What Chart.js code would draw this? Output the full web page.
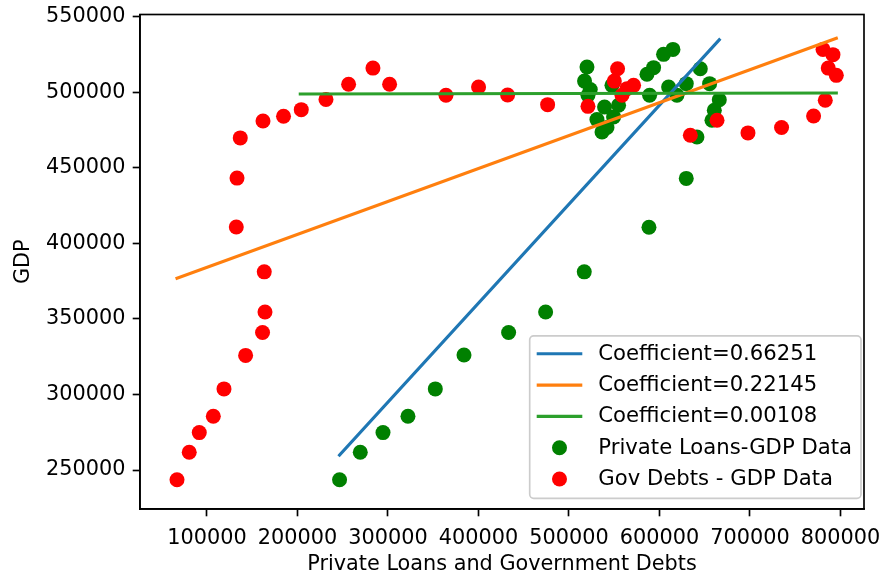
<!DOCTYPE html>
<html>
<head>
<meta charset="utf-8">
<script src="https://cdn.jsdelivr.net/npm/chart.js@4.4.1/dist/chart.umd.min.js"></script>
<style>
  html, body { margin: 0; padding: 0; background: #ffffff; }
  #wrap { width: 891px; height: 575px; }
</style>
</head>
<body>
<div id="wrap"><canvas id="c" width="891" height="575"></canvas></div>
<script>
// ---- data ----
const privateLoans = [246500, 269400, 294500, 322100, 352300, 384000, 433300, 474200, 516900, 588400, 629600, 641400, 658000, 660600, 666100, 655400, 645100, 629600, 619300, 610100, 589100, 614900, 604500, 593500, 586200, 547500, 554800, 549300, 542000, 536500, 539300, 530900, 521000, 523500, 517200, 519900];
const privateGdp   = [243600, 261800, 274800, 285600, 303700, 326200, 341100, 354600, 381200, 410700, 443100, 470500, 481600, 488200, 495200, 505800, 515700, 505800, 498100, 503600, 498100, 528500, 525200, 516400, 512000, 504700, 491500, 483800, 476800, 473800, 490400, 482000, 498100, 501900, 507500, 516800];

const govDebts = [66900, 80400, 91500, 107000, 118800, 142700, 161400, 164100, 163300, 132400, 133200, 136800, 161900, 184600, 204200, 231500, 256500, 283400, 301800, 364100, 400100, 432200, 476400, 521000, 550100, 553700, 558600, 564100, 571400, 634100, 663600, 697800, 734900, 770300, 783200, 795400, 786500, 791700, 780700];
const govGdp   = [243600, 261800, 274800, 285600, 303700, 325900, 341100, 354600, 381200, 410900, 443300, 469900, 481100, 484200, 488600, 495400, 505400, 516100, 505400, 498100, 503600, 498300, 491900, 490800, 507500, 515700, 498100, 502500, 504700, 471700, 481600, 473200, 476800, 484400, 494800, 511300, 516100, 525000, 528500];

// fitted lines (end points)
const fitPrivateX = [246500, 666100];
const fitPrivateY = [259840, 534870];
const fitGovX = [66900, 795400];
const fitGovY = [377000, 535900];
const fitAllX = [203100, 795400];
const fitAllY = [498940, 499600];

const lineLabels = ['Coefficient=0.66251', 'Coefficient=0.22145', 'Coefficient=0.00108'];
const scatterLabels = ['Private Loans-GDP Data', 'Gov Debts - GDP Data'];

const xTicks = [100000, 200000, 300000, 400000, 500000, 600000, 700000, 800000];
const yTicks = [250000, 300000, 350000, 400000, 450000, 500000, 550000];

const xLabel = 'Private Loans and Government Debts';
const yLabel = 'GDP';

// ---- helpers ----
const pts = (xs, ys) => xs.map((x, i) => ({ x: x, y: ys[i] }));
const FONT = 'DejaVu Sans';
const FS = 20.8;
const LFS = 21.2;
const LW = 3.1;

const lineDs = (label, xs, ys, color, order) => ({
  label, data: pts(xs, ys), showLine: true, borderColor: color, backgroundColor: color,
  borderWidth: LW, pointRadius: 0, pointHoverRadius: 0, order, kind: 'line', borderCapStyle: 'square'
});
const scatDs = (label, xs, ys, color, order) => ({
  label, data: pts(xs, ys), showLine: false, backgroundColor: color, borderColor: color,
  borderWidth: 0, pointRadius: 7.5, pointHoverRadius: 7.5, order, kind: 'scatter'
});

const legendPlugin = {
  id: 'boxLegend',
  afterDraw(chart) {
    const ctx = chart.ctx;
    const a = chart.chartArea;
    ctx.save();
    // full frame (spines on all four sides)
    ctx.strokeStyle = '#000000';
    ctx.lineWidth = 1.67;
    ctx.strokeRect(a.left, a.top, a.right - a.left, a.bottom - a.top);

    // legend
    ctx.font = LFS + 'px "' + FONT + '"';
    const dsets = chart.data.datasets;
    let maxW = 0;
    dsets.forEach(d => { maxW = Math.max(maxW, ctx.measureText(d.label).width); });
    const rowH = 31.3;
    const boxRight = a.right - 3;
    const boxBottom = a.bottom - 10.7;
    const textX = boxRight - 9 - maxW;
    const boxLeft = textX - 68.6;
    const boxTop = boxBottom - (rowH * (dsets.length - 1) + 18 + 19.3);
    const r = 4;
    ctx.beginPath();
    ctx.moveTo(boxLeft + r, boxTop);
    ctx.lineTo(boxRight - r, boxTop);
    ctx.arcTo(boxRight, boxTop, boxRight, boxTop + r, r);
    ctx.lineTo(boxRight, boxBottom - r);
    ctx.arcTo(boxRight, boxBottom, boxRight - r, boxBottom, r);
    ctx.lineTo(boxLeft + r, boxBottom);
    ctx.arcTo(boxLeft, boxBottom, boxLeft, boxBottom - r, r);
    ctx.lineTo(boxLeft, boxTop + r);
    ctx.arcTo(boxLeft, boxTop, boxLeft + r, boxTop, r);
    ctx.closePath();
    ctx.fillStyle = 'rgba(255,255,255,0.8)';
    ctx.fill();
    ctx.strokeStyle = '#cccccc';
    ctx.lineWidth = 1.67;
    ctx.stroke();

    const hx0 = boxLeft + 7, hx1 = boxLeft + 52.6;
    dsets.forEach((d, i) => {
      const cy = boxTop + 18 + i * rowH;
      if (d.kind === 'line') {
        ctx.strokeStyle = d.borderColor;
        ctx.lineWidth = LW;
        ctx.beginPath();
        ctx.moveTo(hx0, cy);
        ctx.lineTo(hx1, cy);
        ctx.stroke();
      } else {
        ctx.fillStyle = d.backgroundColor;
        ctx.beginPath();
        ctx.arc((hx0 + hx1) / 2, cy, 7.5, 0, Math.PI * 2);
        ctx.fill();
      }
      ctx.fillStyle = '#000000';
      ctx.textAlign = 'left';
      ctx.textBaseline = 'middle';
      ctx.fillText(d.label, textX, cy + 0.5);
    });
    ctx.restore();
  }
};

const tickCfg = (pad) => ({
  color: '#000000',
  font: { family: FONT, size: FS },
  padding: pad,
  callback: (v) => String(v)
});

new Chart(document.getElementById('c'), {
  type: 'scatter',
  data: {
    datasets: [
      lineDs(lineLabels[0], fitPrivateX, fitPrivateY, '#1f77b4', 2),
      lineDs(lineLabels[1], fitGovX, fitGovY, '#ff7f0e', 1),
      lineDs(lineLabels[2], fitAllX, fitAllY, '#2ca02c', 0),
      scatDs(scatterLabels[0], privateLoans, privateGdp, '#008000', 4),
      scatDs(scatterLabels[1], govDebts, govGdp, '#ff0000', 3)
    ]
  },
  options: {
    responsive: false,
    animation: false,
    devicePixelRatio: 1,
    layout: { padding: { top: 14.5, right: 27, left: 0, bottom: 0 } },
    plugins: { legend: { display: false }, tooltip: { enabled: false } },
    events: [],
    scales: {
      x: {
        type: 'linear', min: 26000, max: 826000,
        afterBuildTicks: (s) => { s.ticks = xTicks.map(v => ({ value: v })); },
        afterFit: (s) => { s.height = 66; s.paddingLeft = 0; s.paddingRight = 0; },
        ticks: tickCfg(10.3),
        grid: { drawOnChartArea: false, drawTicks: true, tickLength: 7.3, tickWidth: 1.67, tickColor: '#000000', color: '#000000' },
        border: { display: true, color: '#000000', width: 1.67 },
        title: { display: true, text: xLabel, color: '#000000', font: { family: FONT, size: FS, lineHeight: 1.2 }, padding: { top: 0, bottom: -2.5 } }
      },
      y: {
        type: 'linear', min: 224200, max: 551600,
        afterBuildTicks: (s) => { s.ticks = yTicks.map(v => ({ value: v })); },
        afterFit: (s) => { s.width = 140; s.paddingTop = 0; s.paddingBottom = 0; },
        ticks: tickCfg(7.3),
        grid: { drawOnChartArea: false, drawTicks: true, tickLength: 7.3, tickWidth: 1.67, tickColor: '#000000', color: '#000000' },
        border: { display: true, color: '#000000', width: 1.67 },
        title: { display: true, text: yLabel, color: '#000000', font: { family: FONT, size: FS, lineHeight: 1.2 }, padding: { top: 11.5, bottom: 0 } }
      }
    }
  },
  plugins: [legendPlugin]
});
</script>
</body>
</html>
